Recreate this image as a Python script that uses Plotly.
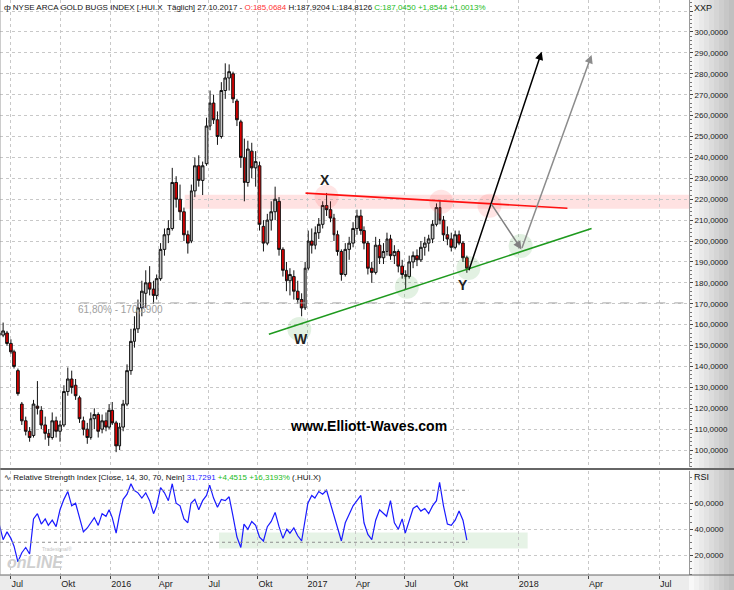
import pandas as pd
import plotly.graph_objects as go

# ---------------- data (weekly bars) ----------------
week_dates = pd.date_range("2015-06-10", periods=125, freq="7D")

opens = [156,155,156,151,147,138,122,114,109,107,
         121,119,112,108,106,114,109,112,128,134,
         131,125,114,110,106,115,117,110,114,111,
         119,113,102,111,122,138,152,158,168,175,
         180,177,174,182,196,203,206,228,220,214,
         203,200,224,236,229,237,255,266,258,250,
         272,278,280,267,257,240,228,243,235,236,
         207,199,210,214,219,196,186,181,183,176,
         172,168,187,200,198,204,208,217,215,211,
         203,195,184,196,199,206,212,205,199,187,
         185,198,192,195,201,193,195,188,184,183,
         190,193,191,197,199,201,208,216,210,203,
         201,197,203,199,192]
highs = [158,161,157,153,148,139,123,116,111,124,
         133,121,116,110,118,116,114,131,139.5,138,
         134,126,116,113,118,120,118,117,118,122,
         123,114,113,124,141,158,164,172,181,186,
         188,181,184,199,206,210,235,231,227,216,
         205,227,240,241,238,259,272,270,262,276,
         285,284.5,281,268,258,249,248,247,243,238,
         210,213,219,226,221,197,190,187,186,181,
         175,190,205,206,207,211,219,223,219,213,
         205,196,199,202,209,215,215,207,200,190,
         202,201,199,204,203,198,196,191,186,193,
         195,196,200,202,203,210,218,219.5,212,207,
         204,205,205,200,193]
lows = [153,154,150,146,139,126,112,107,104,106,
        117,110,105,102,105,106,104,111,126,127,
        124,113,107,103,105,110,106,108,109,110,
        112,99,100,109,121,136,149,156,164,168,
        174,170,172,181,193,199,205,216,210,200,
        194,199,221,226,222,236,253,256,246,249,
        268,272,266,255,235,219,226,230,226,205,
        195,198,205,210,193,183,176,174,172,170,
        164,167,186,194,196,201,206,212,209,200,
        193,181,183,191,197,203,203,196,184,180,
        184,189,189,193,191,189,185,182,177,182,
        187,188,190,193,195,199,207,208,200,198,
        195,196,198,190,184.8]
closes = [155,157,151,147,140,127,114,109,106,122,
          120,112,108,106,114,109,112,128,134,130,
          126,115,110,106,115,117,109,114,111,119,
          113,102,111,122,138,152,158,168,176,180,
          177,174,182,196,203,206,228,220,214,203,
          199,224,236,229,236,255,266,258,250,272,
          278,281,268,258,240,228,244,235,238,208,
          199,210,214,220,196,186,181,184,176,172,
          168,187,200,198,204,208,217,215,211,203,
          195,184,196,199,206,212,205,199,187,185,
          198,192,195,201,193,195,188,184,183,190,
          193,191,197,199,201,208,216,210,203,201,
          197,203,199,192,187]
rsi = [44,32,38,33,27,15,22,26,21,48,
       52,44,48,43,47,42,55,63,69,58,
       60,48,38,41,46,49,43,52,50,55,
       49,37,50,63,67,75,70,68,64,68,
       62,52,58,72,68,62,75,60,58,48,
       45,60,63,55,62,66,74,64,57,63,
       62,65,50,34,26,44,40,46,43,34,
       31,42,46,53,42,33,40,37,41,35,
       31,45,60,66,64,69,67,70,60,52,
       42,31,45,52,58,62,66,45,36,32,
       47,55,52,50,62,45,40,48,37,46,
       56,58,54,56,52,58,62,76,58,44,
       43,47,54,47,31.7]

tick_dates = ["2015-07-01","2015-10-01","2016-01-04","2016-04-01","2016-07-01","2016-10-03",
              "2017-01-03","2017-04-03","2017-07-03","2017-10-02","2018-01-01","2018-04-01","2018-07-01"]
tick_labels = ["Jul","Okt","2016","Apr","Jul","Okt","2017","Apr","Jul","Okt","2018","Apr","Jul"]
price_ticks = list(range(100, 311, 10))
rsi_ticks = [20, 40, 60]

# Elliott wave drawing anchor points (date, price)
red_line = [("2016-12-29", 222.9), ("2018-03-05", 215.7)]
green_line = [("2016-10-21", 155.4), ("2018-04-05", 206.0)]
green_marks = [("2016-12-16", 157.9), ("2017-07-07", 178.1), ("2017-10-27", 187.1), ("2018-01-04", 197.6)]
red_marks = [("2017-02-08", 221.2), ("2017-09-08", 218.8), ("2017-11-25", 216.9)]
black_arrow = [("2017-10-27", 185.3), ("2018-01-31", 290.6)]
gray_arrow1 = [("2017-11-26", 218.5), ("2018-01-05", 196.0)]
gray_arrow2 = [("2018-01-05", 196.0), ("2018-04-05", 289.0)]
wave_labels = [("W", "2016-12-20", 153.0), ("X", "2017-02-06", 229.2), ("Y", "2017-10-18", 179.0)]
fib_level = 170.39
band_price = (215.4, 222.1)
band_rsi = (25.3, 37.6)

X_START, X_END = "2015-06-11", "2018-08-08"
LAST_DAY = "2017-10-27"

# ---------------- axis breaks (weekends + US holidays, past only) ----------------
days = pd.date_range("2015-05-01", "2017-10-29", freq="D")
breaks = [d.strftime("%Y-%m-%d") for d in days if d.weekday() >= 5]
breaks += ["2015-07-03","2015-09-07","2015-11-26","2015-12-25","2016-01-01","2016-01-18",
           "2016-02-15","2016-03-25","2016-05-30","2016-07-04","2016-09-05","2016-11-24",
           "2016-12-26","2017-01-02","2017-01-16","2017-02-20","2017-04-14","2017-05-29",
           "2017-07-04","2017-09-04"]

SANS = "Liberation Sans, Arial, sans-serif"
SMALL = 8

fig = go.Figure()
fig.add_trace(go.Candlestick(
    x=week_dates, open=opens, high=highs, low=lows, close=closes,
    increasing=dict(line=dict(color="#111111", width=1), fillcolor="#c8c8c8"),
    decreasing=dict(line=dict(color="#111111", width=1), fillcolor="#e00000"),
    xaxis="x", yaxis="y", hoverinfo="skip"))
fig.add_trace(go.Scatter(
    x=week_dates, y=rsi, mode="lines", line=dict(color="#1a1aff", width=1.2),
    xaxis="x2", yaxis="y2", hoverinfo="skip"))

shapes = []
PW, PH = 689.0, 575.0
for i in range(9):
    g = int(248 - i * 7)
    shapes.append(dict(type="rect", xref="paper", yref="paper", x0=1 + i * 5 / PW, x1=1 + (i + 1) * 5 / PW,
                       y0=-15 / PH, y1=1, fillcolor=f"rgb({g},{g},{g})", line=dict(width=0), layer="below"))
shapes.append(dict(type="rect", xref="paper", yref="paper", x0=0, x1=1, y0=-15 / PH, y1=0,
                   fillcolor="#ececec", line=dict(width=0), layer="below"))
shapes.append(dict(type="line", xref="paper", yref="paper", x0=0, x1=734 / PW, y0=0, y1=0,
                   line=dict(color="#666666", width=1)))
shapes.append(dict(type="line", xref="paper", yref="paper", x0=0, x1=734 / PW, y0=1 - 469 / PH, y1=1 - 469 / PH,
                   line=dict(color="#666666", width=2)))
shapes.append(dict(type="line", xref="paper", yref="paper", x0=0, x1=0, y0=0, y1=1,
                   line=dict(color="#999999", width=1)))
shapes.append(dict(type="rect", xref="x", yref="y", x0="2016-05-19", x1=X_END, y0=band_price[0], y1=band_price[1],
                   fillcolor="rgba(255,60,60,0.15)", line=dict(width=0), layer="below"))
shapes.append(dict(type="line", xref="x", yref="y", x0="2015-11-05", x1=X_END, y0=fib_level, y1=fib_level,
                   line=dict(color="#a8a8a8", width=1, dash="dash")))
for d, p in green_marks:
    shapes.append(dict(type="circle", xref="x", yref="y", xsizemode="pixel", ysizemode="pixel",
                       xanchor=d, yanchor=p, x0=-12, x1=12, y0=-12, y1=12,
                       fillcolor="rgba(60,160,60,0.15)", line=dict(width=0)))
for d, p in red_marks:
    shapes.append(dict(type="circle", xref="x", yref="y", xsizemode="pixel", ysizemode="pixel",
                       xanchor=d, yanchor=p, x0=-12, x1=12, y0=-12, y1=12,
                       fillcolor="rgba(255,80,80,0.15)", line=dict(width=0)))
shapes.append(dict(type="line", xref="x", yref="y", x0=red_line[0][0], y0=red_line[0][1],
                   x1=red_line[1][0], y1=red_line[1][1], line=dict(color="#ff1010", width=1.6)))
shapes.append(dict(type="line", xref="x", yref="y", x0=green_line[0][0], y0=green_line[0][1],
                   x1=green_line[1][0], y1=green_line[1][1], line=dict(color="#1e9a1e", width=1.6)))
shapes.append(dict(type="rect", xref="x2", yref="y2", x0="2016-07-22", x1="2018-01-13", y0=band_rsi[0], y1=band_rsi[1],
                   fillcolor="rgba(60,160,60,0.13)", line=dict(width=0), layer="below"))
for lv in (30, 70):
    shapes.append(dict(type="line", xref="x2", yref="y2", x0=X_START, x1=LAST_DAY, y0=lv, y1=lv,
                       line=dict(color="#909090", width=1, dash="dot")))

ann = []
def arrow(seg, color):
    (d0, p0), (d1, p1) = seg
    return dict(x=d1, y=p1, ax=d0, ay=p0, xref="x", yref="y", axref="x", ayref="y", text="",
                showarrow=True, arrowhead=2, arrowsize=1.1, arrowwidth=1.5, arrowcolor=color, standoff=0)
ann.append(arrow(black_arrow, "#000000"))
ann.append(arrow(gray_arrow1, "#808080"))
ann.append(arrow(gray_arrow2, "#8c8c8c"))
for t, d, p in wave_labels:
    ann.append(dict(x=d, y=p, xref="x", yref="y", text=f"<b>{t}</b>", showarrow=False,
                    font=dict(family=SANS, size=14, color="#222222")))
ann.append(dict(x=76 / PW, y=167.1, xref="paper", yref="y", xanchor="left", text="61,80% - 170,3900",
                showarrow=False, font=dict(family=SANS, size=10, color="#a0a0a0")))
ann.append(dict(x=368 / PW, y=1 - 436 / PH, xref="paper", yref="paper", text="<b>www.Elliott-Waves.com</b>",
                showarrow=False, font=dict(family=SANS, size=14, color="#000000")))
title = ("ф NYSE ARCA GOLD BUGS INDEX [.HUI.X\u00a0\u00a0Täglich] 27.10.2017 - "
         "<span style='color:#ff3333'>O:185,0684</span> H:187,9204 L:184,8126 "
         "<span style='color:#22bb22'>C:187,0450 +1,8544 +1,0013%</span>")
ann.append(dict(x=2 / PW, y=1 - 8 / PH, xref="paper", yref="paper", xanchor="left", yanchor="middle",
                text=title, showarrow=False, font=dict(family=SANS, size=SMALL, color="#111111")))
rsi_title = ("∿ Relative Strength Index [Close, 14, 30, 70, Nein] "
             "<span style='color:#2222ff'>31,7291</span> "
             "<span style='color:#22bb22'>+4,4515 +16,3193%</span> (.HUI.X)")
ann.append(dict(x=2 / PW, y=1 - 477 / PH, xref="paper", yref="paper", xanchor="left", yanchor="middle",
                text=rsi_title, showarrow=False, font=dict(family=SANS, size=SMALL, color="#111111")))
ann.append(dict(x=692 / PW, y=1 - 8 / PH, xref="paper", yref="paper", xanchor="left", yanchor="middle",
                text="XXP", showarrow=False, font=dict(family=SANS, size=SMALL + 1, color="#111111")))
ann.append(dict(x=692 / PW, y=1 - 477 / PH, xref="paper", yref="paper", xanchor="left", yanchor="middle",
                text="RSI", showarrow=False, font=dict(family=SANS, size=SMALL + 1, color="#111111")))
ann.append(dict(x=5 / PW, y=1 - 562 / PH, xref="paper", yref="paper", xanchor="left", yanchor="middle",
                text="<b><i>onLINE</i></b>", showarrow=False, font=dict(family=SANS, size=16, color="#cfcfcf")))
ann.append(dict(x=40 / PW, y=1 - 549 / PH, xref="paper", yref="paper", xanchor="left", yanchor="middle",
                text="Tradesignal®", showarrow=False, font=dict(family=SANS, size=5, color="#c4c4c4")))

GRID = dict(showgrid=True, gridcolor="#c8c8c8", griddash="dot", gridwidth=1, zeroline=False)
xcommon = dict(type="date", range=[X_START, X_END], rangebreaks=[dict(values=breaks)],
               tickmode="array", tickvals=tick_dates, ticktext=tick_labels, showline=False, **GRID)
TICKFONT = dict(family=SANS, size=SMALL, color="#222")

fig.update_layout(
    width=734, height=590, margin=dict(l=0, r=45, t=0, b=15),
    paper_bgcolor="white", plot_bgcolor="white", showlegend=False, separators=",.",
    shapes=shapes, annotations=ann,
    xaxis=dict(domain=[0, 1], anchor="y", showticklabels=False, ticks="",
               rangeslider=dict(visible=False), **xcommon),
    xaxis2=dict(domain=[0, 1], anchor="y2", matches="x", ticks="outside", ticklen=3, tickcolor="#444",
                ticklabelposition="outside right", tickfont=dict(family=SANS, size=9, color="#222"), **xcommon),
    yaxis=dict(domain=[1 - 467 / PH, 1], anchor="x", side="right", range=[91.9, 315.3],
               tickmode="array", tickvals=price_ticks,
               ticktext=[f"{v},0000" if v <= 300 else "" for v in price_ticks],
               ticks="outside", ticklen=3, tickcolor="#444", showline=True, linecolor="#999", linewidth=1,
               minor=dict(ticks="outside", ticklen=2, dtick=2, tick0=0, tickcolor="#777", showgrid=False),
               tickfont=TICKFONT, **GRID),
    yaxis2=dict(domain=[0, 1 - 471 / PH], anchor="x2", side="right", range=[4.85, 84.8],
                tickmode="array", tickvals=rsi_ticks, ticktext=[f"{v},0000" for v in rsi_ticks],
                ticks="outside", ticklen=3, tickcolor="#444", showline=True, linecolor="#999", linewidth=1,
                minor=dict(ticks="outside", ticklen=2, dtick=5, tick0=0, tickcolor="#777", showgrid=False),
                tickfont=TICKFONT, **GRID),
)

fig.write_html("out.html", config={"displayModeBar": False},
               post_script="document.body.style.margin='0';")
